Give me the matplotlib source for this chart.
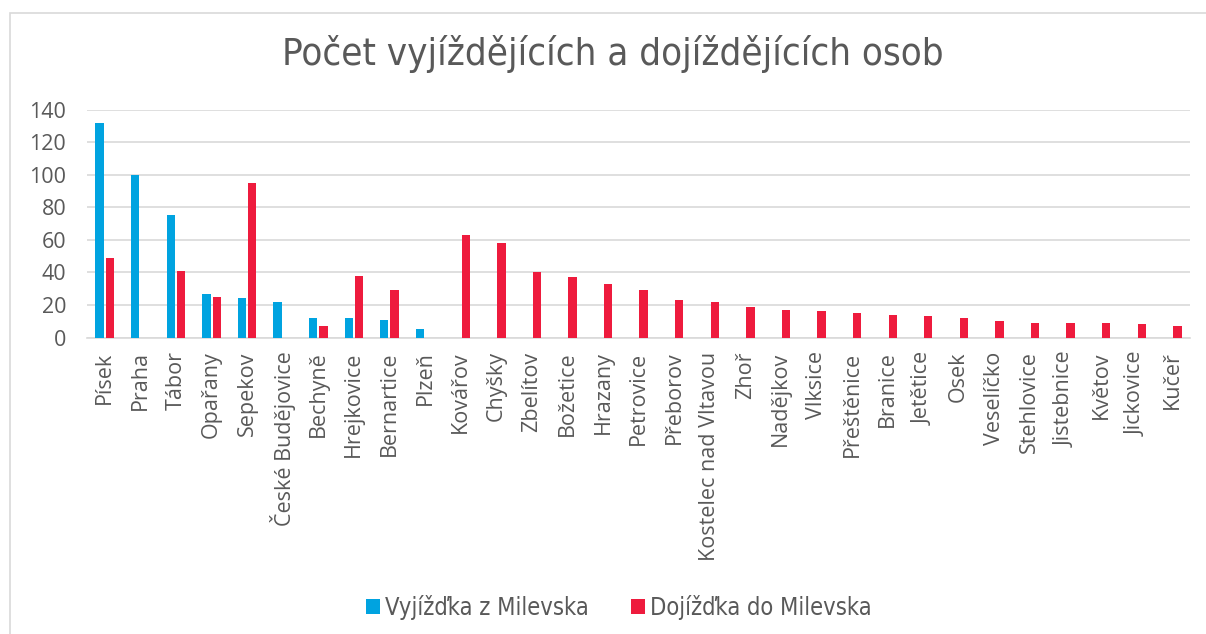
import matplotlib
matplotlib.use("Agg")
import matplotlib.pyplot as plt
import numpy as np
from matplotlib.patches import Rectangle

categories = ["Písek", "Praha", "Tábor", "Opařany", "Sepekov", "České Budějovice",
              "Bechyně", "Hrejkovice", "Bernartice", "Plzeň", "Kovářov", "Chyšky",
              "Zbelítov", "Božetice", "Hrazany", "Petrovice", "Přeborov",
              "Kostelec nad Vltavou", "Zhoř", "Nadějkov", "Vlksice", "Přeštěnice",
              "Branice", "Jetětice", "Osek", "Veselíčko", "Stehlovice", "Jistebnice",
              "Květov", "Jickovice", "Kučeř"]
vyjizdka = [132, 100, 75, 27, 24, 22, 12, 12, 11, 5, 0, 0, 0, 0, 0, 0, 0, 0, 0, 0,
            0, 0, 0, 0, 0, 0, 0, 0, 0, 0, 0]
dojizdka = [49, 0, 41, 25, 95, 0, 7, 38, 29, 0, 63, 58, 40, 37, 33, 29, 23, 22, 19,
            17, 16, 15, 14, 13, 12, 10, 9, 9, 9, 8, 7]
yticks = [0, 20, 40, 60, 80, 100, 120, 140]
title = "Počet vyjíždějících a dojíždějících osob"
series_names = ["Vyjížďka z Milevska", "Dojížďka do Milevska"]

blue = "#00A3E0"
red = "#EE1B3D"
text_col = "#595959"
font = ["Open Sans", "DejaVu Sans"]

fig = plt.figure(figsize=(12.06, 6.34), dpi=100)
fig.patch.set_facecolor("white")
fig.patches.append(Rectangle((10/1206, -0.1), 1.2, 1 - 13/634 + 0.1,
                             transform=fig.transFigure, fill=False,
                             edgecolor="#D9D9D9", linewidth=1.2))

ax = fig.add_axes([87/1206, 1 - 337.5/634, (1190 - 87)/1206, (337.5 - 109.5)/634])
x = np.arange(len(categories))
w = 0.235
ax.bar(x - 0.145, vyjizdka, width=w, color=blue, label=series_names[0], zorder=3)
ax.bar(x + 0.145, dojizdka, width=w, color=red, label=series_names[1], zorder=3)

ax.set_xlim(-0.5, len(categories) - 0.5)
ax.set_ylim(0, 140)
ax.set_yticks(yticks)
ax.yaxis.grid(True, color="#D9D9D9", linewidth=1.2, zorder=0)
ax.set_axisbelow(True)
for s in ["top", "right", "left"]:
    ax.spines[s].set_visible(False)
ax.spines["bottom"].set_color("#D9D9D9")
ax.spines["bottom"].set_linewidth(1.2)
ax.tick_params(axis="both", length=0, colors=text_col)
ax.tick_params(axis="y", pad=15)
ax.tick_params(axis="x", pad=10)
ax.set_xticks(x)
ax.set_xticklabels(categories, rotation=90, fontsize=15.5, family=font, color=text_col)
for lbl in ax.get_yticklabels():
    lbl.set_fontsize(15.5)
    lbl.set_family(font)
    lbl.set_color(text_col)

fig.text(0.508, 1 - 54/634, title, ha="center", va="center", fontsize=27.5,
         family=["DejaVu Sans"], fontstretch="condensed", color=text_col)

leg = fig.legend(loc="center", bbox_to_anchor=(0.513, 1 - 607/634), ncol=2,
                 frameon=False, handlelength=0.6, handleheight=0.6,
                 handletextpad=0.2, columnspacing=1.8,
                 prop={"family": "DejaVu Sans", "size": 17, "stretch": "condensed"})
for t in leg.get_texts():
    t.set_color(text_col)

fig.savefig("out.png", dpi=100, facecolor="white")
